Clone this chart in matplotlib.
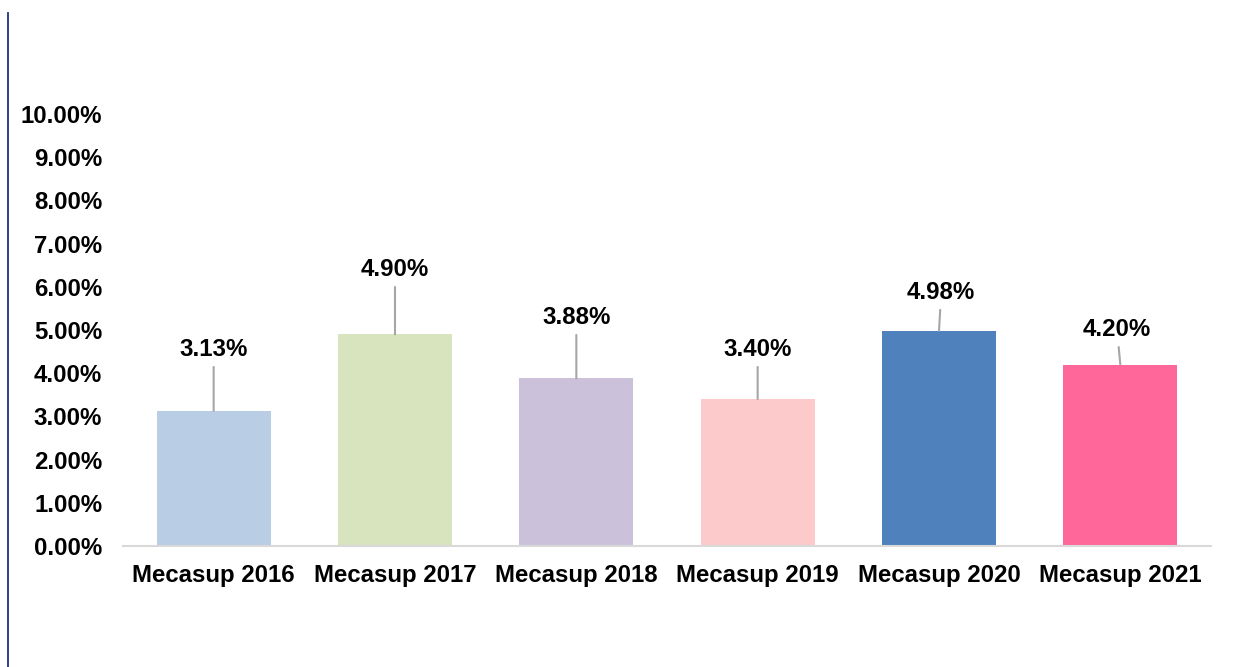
import matplotlib
matplotlib.use("Agg")
import matplotlib.pyplot as plt
from matplotlib.lines import Line2D
from matplotlib.ticker import FuncFormatter

categories = ["Mecasup 2016", "Mecasup 2017", "Mecasup 2018", "Mecasup 2019", "Mecasup 2020", "Mecasup 2021"]
values = [3.13, 4.90, 3.88, 3.40, 4.98, 4.20]
labels = ["3.13%", "4.90%", "3.88%", "3.40%", "4.98%", "4.20%"]
label_y = [4.54, 6.39, 5.28, 4.54, 5.86, 5.00]
label_dx = [0.0, 0.0, 0.0, 0.0, 0.012, -0.018]
colors = ["#B9CDE5", "#D7E4BD", "#CCC1DA", "#FDCACB", "#4F81BD", "#FF6699"]

plt.rcParams['font.family'] = ['Liberation Sans', 'DejaVu Sans']

fig = plt.figure(figsize=(12.43, 6.67), dpi=100)
ax = fig.add_axes([123/1243, 1 - 546/667, (1211-123)/1243, (546-114)/667])

x = list(range(len(categories)))
ax.bar(x, values, width=0.63, color=colors, zorder=2)

FS = 17.3
for xi, v, lab, ly, dx in zip(x, values, labels, label_y, label_dx):
    ax.annotate(lab, xy=(xi, v), xytext=(xi + dx, ly), textcoords='data',
                ha='center', va='center', fontsize=FS, fontweight='bold', color='black',
                arrowprops=dict(arrowstyle='-', color='#A6A6A6', lw=1.5, shrinkA=2, shrinkB=0))

ax.set_xlim(-0.5, len(categories) - 0.5)
ax.set_ylim(0, 10)
ax.set_yticks([i for i in range(0, 11)])
ax.yaxis.set_major_formatter(FuncFormatter(lambda v, p: f"{v:.2f}%"))
ax.set_xticks(x)
ax.set_xticklabels(categories)
for t in ax.get_xticklabels() + ax.get_yticklabels():
    t.set_fontweight('bold')
    t.set_fontsize(FS)
ax.tick_params(axis='both', length=0)
ax.tick_params(axis='y', pad=15)
ax.tick_params(axis='x', pad=13)

for s in ['top', 'right', 'left']:
    ax.spines[s].set_visible(False)
ax.spines['bottom'].set_color('#D9D9D9')
ax.spines['bottom'].set_linewidth(1.5)

fig.add_artist(Line2D([8/1243, 8/1243], [0, 1 - 13/667], transform=fig.transFigure,
                      color='#1A3380', lw=1.3))

fig.savefig("out.png", dpi=100, facecolor='white')
